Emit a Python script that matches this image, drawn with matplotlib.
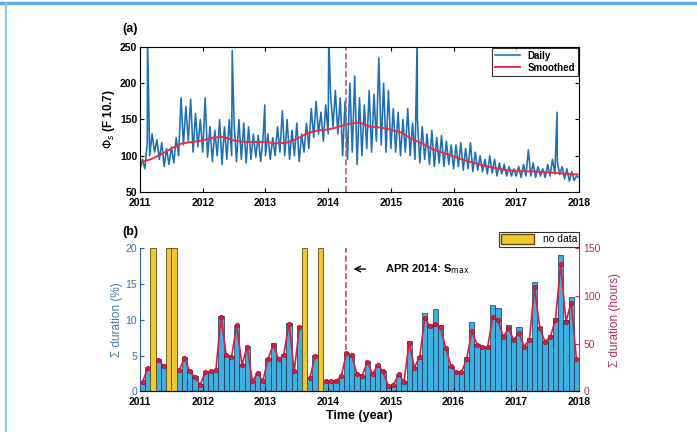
import numpy as np
import matplotlib
matplotlib.use("Agg")
import matplotlib.pyplot as plt
from matplotlib.lines import Line2D
from matplotlib.patches import Patch

plt.rcParams['font.family'] = ['Liberation Sans', 'DejaVu Sans']

# ---- (a) solar flux, sampled every half rotation (1/26 yr) ----
flux_2011 = [80, 95, 82, 118, 100, 130, 105, 122, 95, 118, 85, 110, 88, 112, 90, 125,
             100, 180, 115, 168, 120, 178, 105, 158, 112, 150]
flux_2012 = [105, 180, 98, 140, 92, 135, 100, 150, 88, 140, 95, 150, 100, 145, 92, 150,
             95, 145, 90, 140, 95, 130, 98, 128, 92, 125]
flux_2013 = [100, 130, 95, 125, 100, 140, 105, 162, 100, 150, 95, 135, 100, 145, 92, 130,
             105, 145, 110, 165, 125, 175, 130, 160, 120, 170]
flux_2014 = [130, 185, 140, 190, 130, 180, 100, 175, 95, 200, 105, 210, 88, 180, 100, 170,
             110, 190, 105, 185, 120, 235, 115, 200, 105, 190]
flux_2015 = [110, 165, 105, 160, 100, 150, 105, 165, 100, 145, 95, 150, 90, 140, 95, 130,
             88, 135, 85, 125, 90, 128, 85, 120, 88, 115]
flux_2016 = [82, 115, 85, 118, 80, 110, 82, 118, 78, 105, 80, 100, 78, 95, 75, 100,
             76, 95, 72, 90, 75, 88, 72, 85, 72, 82]
flux_2017 = [72, 85, 70, 88, 72, 108, 72, 90, 70, 85, 72, 82, 70, 88, 72, 95,
             75, 92, 74, 85, 68, 82, 65, 78, 66, 72]
flux_end = 70
spike_t = [2011.12, 2012.47, 2012.99, 2014.01, 2015.42, 2017.65]
spike_v = [262, 245, 170, 262, 262, 160]

smooth_2m = [91, 95, 102, 110, 117, 119, 121, 125, 126, 121, 119, 119, 119, 117, 118,
             123, 131, 135, 136, 140, 144, 146, 140, 139, 136, 132, 123, 117, 109, 104,
             99, 94, 90, 86, 83, 80, 79, 78.5, 78, 77, 76, 75, 74]

# ---- (b) monthly occurrence ----
dur_pct = [1.5, 3.4, np.nan, 4.5, 3.7, np.nan, np.nan, 3.0, 4.8, 2.9, 2.1, 1.0,
           2.7, 2.8, 3.0, 10.5, 5.1, 4.9, 9.3, 3.8, 6.4, 1.5, 2.6, 1.5,
           4.6, 6.7, 4.6, 5.2, 9.6, 2.8, 9.1, np.nan, 2.0, 5.1, np.nan, 1.5,
           1.5, 1.6, 2.2, 5.4, 5.2, 2.5, 2.2, 4.3, 2.5, 3.9, 2.9, 0.8,
           0.9, 2.5, 1.3, 7.0, 3.4, 5.0, 10.9, 9.2, 11.5, 9.2, 6.1, 3.6,
           2.8, 2.7, 4.8, 9.7, 6.6, 6.3, 6.2, 12.0, 11.6, 7.9, 9.2, 7.4,
           9.0, 6.3, 7.4, 15.3, 9.0, 7.1, 7.9, 10.2, 19.0, 9.9, 13.2, 4.7]
dur_hours = [10, 25, np.nan, 33, 27, np.nan, np.nan, 22, 35, 21, 15, 7,
             20, 21, 22, 78, 38, 36, 69, 28, 47, 11, 19, 11,
             34, 49, 34, 38, 71, 21, 67, np.nan, 14, 37, np.nan, 11,
             11, 11, 16, 40, 38, 18, 16, 31, 18, 28, 21, 6,
             7, 18, 10, 51, 25, 36, 77, 68, 71, 67, 45, 27,
             20, 20, 34, 63, 49, 47, 46, 78, 75, 57, 66, 54,
             61, 47, 54, 109, 66, 52, 57, 75, 133, 73, 93, 34]
nodata_months = [2, 5, 6, 31, 34]
smax_time = 2014 + 3.5 / 12

# build time axes
flux = flux_2011 + flux_2012 + flux_2013 + flux_2014 + flux_2015 + flux_2016 + flux_2017 + [flux_end]
t_flux = 2011 + np.arange(len(flux)) / 26.0
t_all = np.concatenate([t_flux, spike_t])
v_all = np.concatenate([flux, spike_v])
order = np.argsort(t_all)
t_all, v_all = t_all[order], v_all[order]
t_smooth = 2011 + np.arange(len(smooth_2m)) / 6.0
t_month = 2011 + (np.arange(len(dur_pct)) + 0.5) / 12.0

years = np.arange(2011, 2019)
tickfont = dict(fontsize=7.5, fontweight='bold')

fig = plt.figure(figsize=(6.97, 4.32), dpi=100)
# frame of the screenshot
fig.add_artist(Line2D([0, 1], [0.993, 0.993], color='#5bb0e0', lw=2.5))
fig.add_artist(Line2D([0.009, 0.009], [0, 0.99], color='#8cc8ea', lw=1.5))

ax1 = fig.add_axes([0.2009, 0.5556, 0.6298, 0.3356])
ax1.plot(t_all, v_all, color='#1a6fb5', lw=1.15, label='Daily')
ax1.plot(t_smooth, smooth_2m, color='#ee2a3c', lw=1.4, label='Smoothed')
ax1.axvline(smax_time, color='#b0607a', ls='--', lw=1.2)
ax1.set_xlim(2011, 2018)
ax1.set_ylim(50, 250)
ax1.set_yticks([50, 100, 150, 200, 250])
ax1.set_xticks(years)
ax1.set_xticklabels([str(y) for y in years], **tickfont)
ax1.set_yticklabels(['50', '100', '150', '200', '250'], **tickfont)
ax1.tick_params(direction='in', top=True, right=True, length=3, pad=2)
ax1.tick_params(axis='x', pad=4)
ax1.set_ylabel(r'$\Phi_s$ (F 10.7)', fontsize=8.5, fontweight='bold', labelpad=2)
leg = ax1.legend(loc='upper right', prop={'weight': 'bold', 'size': 7},
                 fancybox=False, edgecolor='black', borderpad=0.3, handlelength=2.6,
                 labelspacing=0.2, borderaxespad=0.1)
leg.get_frame().set_linewidth(0.8)
fig.text(0.175, 0.925, '(a)', fontsize=9, fontweight='bold')

ax2 = fig.add_axes([0.2009, 0.0938, 0.6298, 0.3321])
ax2.bar(t_month, np.nan_to_num(dur_pct), width=1 / 12, color='#3cb0e0',
        edgecolor='#1a3050', linewidth=0.5)
nd_x = t_month[nodata_months]
ax2.plot([smax_time, smax_time], [5.8, 20], color='#c0506a', ls='--', lw=1.2)
ax2.set_xlim(2011, 2018)
ax2.set_ylim(0, 20)
ax2.set_xticks(years)
ax2.set_xticklabels([str(y) for y in years], **tickfont)
ax2.set_yticks([0, 5, 10, 15, 20])
ax2.set_yticklabels(['0', '5', '10', '15', '20'], fontsize=7.5, color='#3a6e9e')
ax2.tick_params(direction='in', length=3, pad=2)
ax2.tick_params(axis='x', pad=4)
ax2.tick_params(axis='y', colors='#2a5d9f', labelcolor='#3a6e9e')
ax2.spines['top'].set_visible(False)
ax2.spines['right'].set_visible(False)
ax2.spines['left'].set_color('#2a5d9f')
ax2.set_ylabel('\u03a3 duration (%)', fontsize=8.5, color='#4a7ab0', labelpad=2)
ax2.set_xlabel('Time (year)', fontsize=9, fontweight='bold', labelpad=2)

ax3 = ax2.twinx()
ax3.plot(t_month, dur_hours, color='#d8203c', lw=1.2, marker='o', ms=3.2,
         mfc='#d8203c', mec='#a01030', mew=0.5)
ax3.set_ylim(0, 150)
ax3.set_yticks([0, 50, 100, 150])
ax3.set_yticklabels(['0', '50', '100', '150'], fontsize=7.5, color='#b03050')
ax3.tick_params(direction='in', length=3, pad=3, colors='#c0304a', labelcolor='#b03050')
ax3.spines['top'].set_visible(False)
ax3.spines['left'].set_visible(False)
ax3.spines['right'].set_color('#c0304a')
ax3.set_ylabel('\u03a3 duration (hours)', fontsize=8.5, color='#b03050', labelpad=6)
# no-data months on top of the red line
ax3.bar(nd_x, [150] * len(nd_x), width=1 / 12, color='#f0c830', edgecolor='#5a4a10',
        linewidth=0.6)

ax3.annotate('', xy=(2014.36, 128), xytext=(2014.64, 128),
             arrowprops=dict(arrowstyle='->', color='black', lw=1.0))
ax3.text(2014.9, 128, 'APR 2014: S$_{\\mathrm{max}}$', fontsize=8, fontweight='bold',
         va='center', ha='left')

leg2 = ax3.legend(handles=[Patch(facecolor='#f0c830', edgecolor='#5a4a10', label='no data')],
                  loc='lower right', bbox_to_anchor=(1.0, 1.01), fontsize=7.5,
                  fancybox=False, edgecolor='black', borderpad=0.2, handlelength=3.2,
                  handleheight=1.0, borderaxespad=0.0)
leg2.get_frame().set_linewidth(0.8)
fig.text(0.175, 0.455, '(b)', fontsize=9, fontweight='bold')

fig.savefig('out.png', dpi=100)
